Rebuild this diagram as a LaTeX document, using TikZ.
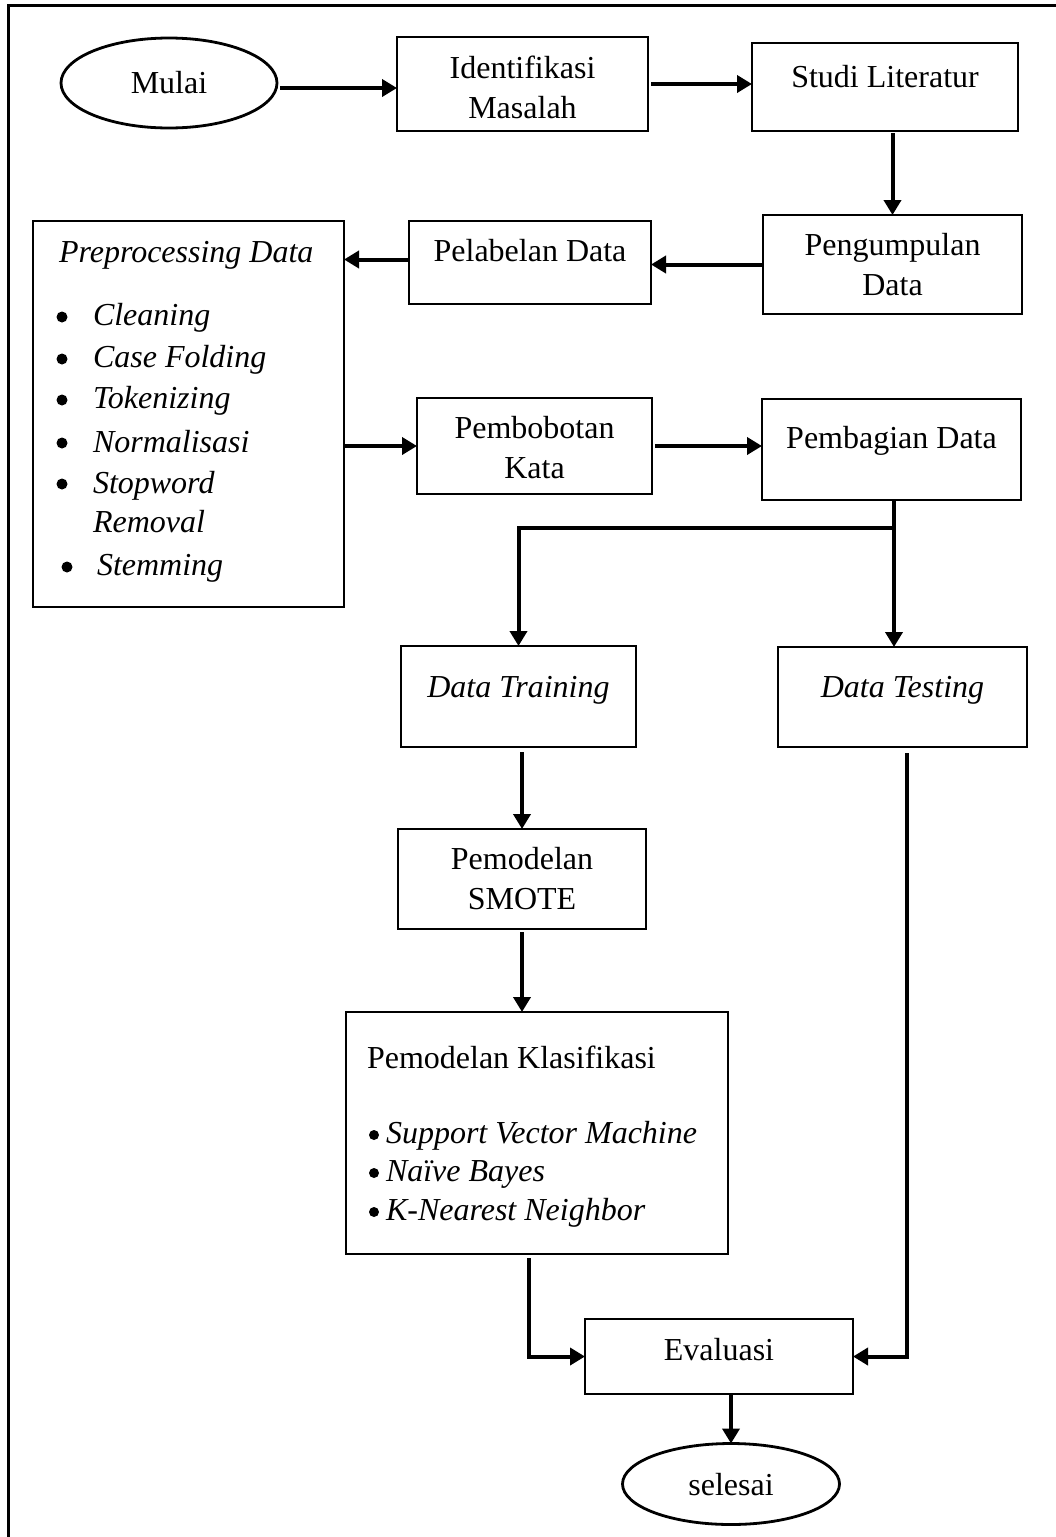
\documentclass[tikz,border=0pt]{standalone}
\usepackage{fontspec}
\setmainfont{Liberation Serif}
\usetikzlibrary{arrows.meta,shapes.geometric,calc}
\begin{document}
\begin{tikzpicture}[x=1pt,y=-1pt,
  box/.style={draw, line width=2.8pt, rectangle, inner sep=0pt, outer sep=0pt},
  oval/.style={draw, line width=2.8pt, ellipse, inner sep=0pt, outer sep=0pt},
  dot/.style={circle, fill, inner sep=0pt, outer sep=0pt, minimum size=11pt},
  txt/.style={font=\fontsize{32}{40}\selectfont, inner sep=0pt, outer sep=0pt},
  itxt/.style={font=\fontsize{32}{40}\selectfont\itshape, inner sep=0pt, outer sep=0pt},
  arr/.style={line width=4pt, -{Triangle[length=15pt,width=17pt]}},
  conn/.style={line width=4pt}]

\useasboundingbox (0,0) rectangle (1056,1537);
\draw[line width=3pt] (8,1537) -- (8,5) -- (1056,5);

\node[oval, minimum width=216pt, minimum height=90pt] (mulai) at (169,83) {};
\node[txt, anchor=base] (t-mulai) at (169,93) {Mulai};

\node[box, minimum width=251pt, minimum height=94pt] (ident) at (522.5,84) {};
\node[txt, anchor=base] (t-ident1) at (522.5,78) {Identifikasi};
\node[txt, anchor=base] (t-ident2) at (522.5,118) {Masalah};

\node[box, minimum width=266pt, minimum height=88pt] (studi) at (885,87) {};
\node[txt, anchor=base] (t-studi) at (885,87) {Studi Literatur};

\node[box, minimum width=259pt, minimum height=99pt] (peng) at (892.5,264.5) {};
\node[txt, anchor=base] (t-peng1) at (892.5,255) {Pengumpulan};
\node[txt, anchor=base] (t-peng2) at (892.5,295) {Data};

\node[box, minimum width=242pt, minimum height=83pt] (pelab) at (530,262.5) {};
\node[txt, anchor=base] (t-pelab) at (530,261) {Pelabelan Data};

\node[box, minimum width=311pt, minimum height=386pt] (prep) at (188.5,414) {};
\node[itxt, anchor=base west] (t-prep) at (59,262) {Preprocessing Data};
\node[dot] (b1) at (62,317) {};
\node[itxt, anchor=base west] (p1) at (93,325) {Cleaning};
\node[dot] (b2) at (62,359) {};
\node[itxt, anchor=base west] (p2) at (93,367) {Case Folding};
\node[dot] (b3) at (62,400) {};
\node[itxt, anchor=base west] (p3) at (93,408) {Tokenizing};
\node[dot] (b4) at (62,443) {};
\node[itxt, anchor=base west] (p4) at (93,452) {Normalisasi};
\node[dot] (b5) at (62,484) {};
\node[itxt, anchor=base west] (p5) at (93,493) {Stopword};
\node[itxt, anchor=base west] (p5b) at (93,532) {Removal};
\node[dot] (b6) at (67,567) {};
\node[itxt, anchor=base west] (p6) at (97,575) {Stemming};

\node[box, minimum width=235pt, minimum height=96pt] (bobot) at (534.5,446) {};
\node[txt, anchor=base] (t-bobot1) at (534.5,438) {Pembobotan};
\node[txt, anchor=base] (t-bobot2) at (534.5,478) {Kata};

\node[box, minimum width=259pt, minimum height=101pt] (bagi) at (891.5,449.5) {};
\node[txt, anchor=base] (t-bagi) at (891.5,448) {Pembagian Data};

\node[box, minimum width=235pt, minimum height=101pt] (train) at (518.5,696.5) {};
\node[itxt, anchor=base] (t-train) at (518.5,697) {Data Training};

\node[box, minimum width=249pt, minimum height=100pt] (test) at (902.5,697) {};
\node[itxt, anchor=base] (t-test) at (902.5,697) {Data Testing};

\node[box, minimum width=248pt, minimum height=100pt] (smote) at (522,879) {};
\node[txt, anchor=base] (t-smote1) at (522,869) {Pemodelan};
\node[txt, anchor=base] (t-smote2) at (522,909) {SMOTE};

\node[box, minimum width=382pt, minimum height=242pt] (klas) at (537,1133) {};
\node[txt, anchor=base west] (t-klas) at (367,1068) {Pemodelan Klasifikasi};
\node[dot, minimum size=10pt] (k1b) at (374,1135) {};
\node[itxt, anchor=base west] (k1) at (386,1143) {Support Vector Machine};
\node[dot, minimum size=10pt] (k2b) at (374,1173) {};
\node[itxt, anchor=base west] (k2) at (386,1181) {Naïve Bayes};
\node[dot, minimum size=10pt] (k3b) at (374,1212) {};
\node[itxt, anchor=base west] (k3) at (386,1220) {K-Nearest Neighbor};

\node[box, minimum width=268pt, minimum height=75pt] (eval) at (719,1356.5) {};
\node[txt, anchor=base] (t-eval) at (719,1360) {Evaluasi};

\node[oval, minimum width=217pt, minimum height=81pt] (selesai) at (731,1484) {};
\node[txt, anchor=base] (t-selesai) at (731,1495) {selesai};

% connectors
\draw[arr, shorten <=3pt] ([yshift=-5pt]mulai.east) -- ([yshift=-5pt]mulai.east -| ident.west);
\draw[arr, shorten <=3pt] (ident.east) -- (ident.east -| studi.west);
\draw[arr, shorten <=2pt] (peng.north |- studi.south) -- (peng.north);
\draw[arr] (peng.west) -- (peng.west -| pelab.east);
\draw[arr] ([yshift=3pt]pelab.west) -- ([yshift=3pt]pelab.west -| prep.east);
\draw[arr] (prep.east |- bobot.west) -- (bobot.west);
\draw[arr, shorten <=3pt] (bobot.east) -- (bobot.east -| bagi.west);
\coordinate (split) at (894,528);
\draw[conn] (bagi.south -| split) -- (split);
\draw[arr] (split) -| (train.north);
\draw[arr] (split) -- (split |- test.north);
\draw[arr, shorten <=5pt] (smote.north |- train.south) -- (smote.north);
\draw[arr, shorten <=3pt] (smote.south) -- (smote.south |- klas.north);
\draw[arr, shorten <=6pt] ([xshift=4pt]test.south) |- (eval.east);
\draw[arr, shorten <=4pt] ([xshift=-8pt]klas.south) |- (eval.west);
\draw[arr] (selesai.north |- eval.south) -- (selesai.north);
\end{tikzpicture}
\end{document}
